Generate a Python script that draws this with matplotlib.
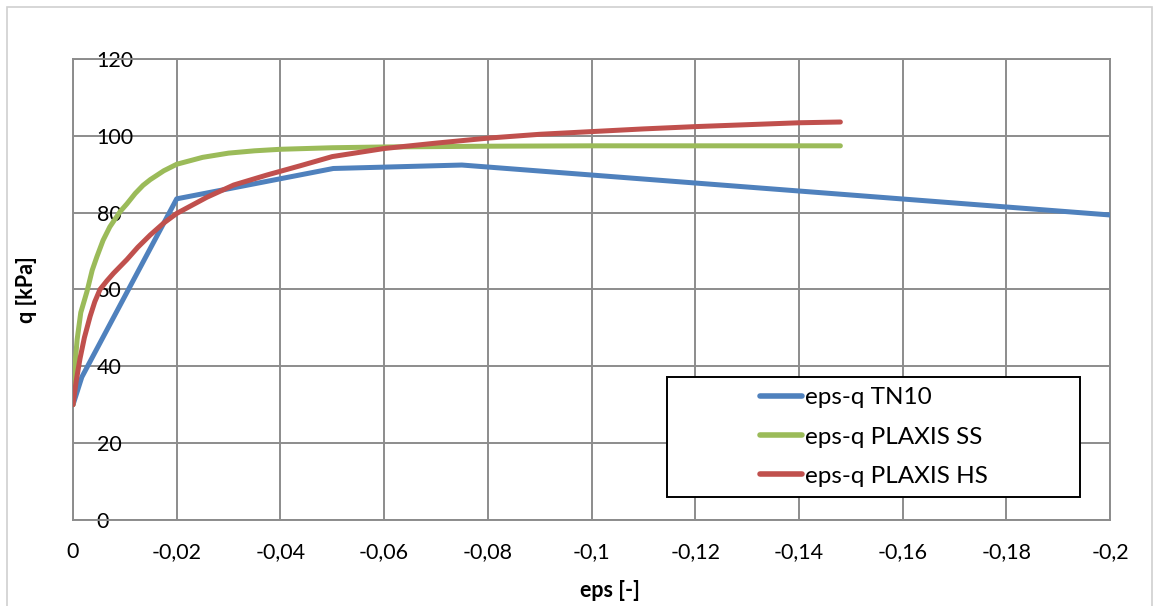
import matplotlib
matplotlib.use("Agg")
import matplotlib.pyplot as plt
from matplotlib.patches import Rectangle

# Data
eps_tn10 = [0, -0.0017, -0.02, -0.0502, -0.075, -0.2]
q_tn10 = [30, 37.2, 83.6, 91.5, 92.4, 79.4]

eps_ss = [0, -0.0003, -0.0008, -0.0015, -0.0027, -0.0037, -0.0046, -0.0058, -0.0071,
          -0.0091, -0.0104, -0.012, -0.0135, -0.0149, -0.0175, -0.02, -0.025, -0.03,
          -0.035, -0.04, -0.05, -0.06, -0.08, -0.1, -0.12, -0.148]
q_ss = [30, 39, 47, 54, 59.5, 65, 68.5, 72.8, 76.3, 80.3, 82.3, 85, 87.1, 88.6, 90.9,
        92.6, 94.4, 95.5, 96.1, 96.5, 96.9, 97.1, 97.3, 97.4, 97.4, 97.4]

eps_hs = [0, -0.0006, -0.00135, -0.0022, -0.0033, -0.0042, -0.0052, -0.0065, -0.0078,
          -0.0091, -0.0104, -0.0125, -0.0149, -0.0175, -0.02, -0.0258, -0.031, -0.0374,
          -0.0438, -0.05, -0.06, -0.07, -0.08, -0.09, -0.1, -0.11, -0.12, -0.13, -0.14,
          -0.148]
q_hs = [30, 36, 42, 47.5, 53, 56.8, 60, 62.2, 64.2, 66, 67.8, 71, 74.2, 77.3, 79.8,
        84, 87.2, 89.8, 92.2, 94.6, 96.7, 98.1, 99.4, 100.4, 101.1, 101.8, 102.4, 102.9,
        103.4, 103.6]

labels = ["eps-q TN10", "eps-q PLAXIS SS", "eps-q PLAXIS HS"]
colors = ["#4F81BD", "#9BBB59", "#C0504D"]

xticks = [0, -0.02, -0.04, -0.06, -0.08, -0.1, -0.12, -0.14, -0.16, -0.18, -0.2]
xtick_labels = ["0", "-0,02", "-0,04", "-0,06", "-0,08", "-0,1", "-0,12",
                "-0,14", "-0,16", "-0,18", "-0,2"]
yticks = [0, 20, 40, 60, 80, 100, 120]

plt.rcParams["font.family"] = ["Lato", "DejaVu Sans"]

W, H = 1153, 606
fig = plt.figure(figsize=(W / 100, H / 100), dpi=100)
ax = fig.add_axes([73 / W, 1 - 520 / H, (1110 - 73) / W, (520 - 59) / H])

# outer chart border
fig.patches.append(Rectangle((7 / W, -0.01), (1152 - 7) / W, 1.01 - 7 / H,
                             transform=fig.transFigure, fill=False,
                             edgecolor="#d0d0d0", linewidth=1.2))

for xs, ys, c, lab in zip([eps_tn10, eps_ss, eps_hs], [q_tn10, q_ss, q_hs], colors, labels):
    ax.plot(xs, ys, color=c, linewidth=3.6, label=lab, solid_capstyle="round",
            solid_joinstyle="round", zorder=3)

ax.set_xlim(0, -0.2)
ax.set_ylim(0, 120)
ax.set_xticks(xticks)
ax.set_xticklabels(xtick_labels)
ax.set_yticks(yticks)
ax.grid(True, color="#8c8c8c", linewidth=1.4)
ax.set_axisbelow(True)
for s in ax.spines.values():
    s.set_color("#8c8c8c")
    s.set_linewidth(1.4)

ax.tick_params(axis="x", length=0, pad=16, labelsize=15.5)
ax.tick_params(axis="y", length=0, pad=-17, labelsize=15.5)
for t in ax.get_yticklabels():
    t.set_horizontalalignment("left")

ax.set_xlabel("eps [-]", fontsize=15.5, fontweight="bold")
ax.xaxis.set_label_coords((610 - 73) / 1037, (520 - 580) / 461)
ax.set_ylabel("q [kPa]", fontsize=15.5, fontweight="bold")
ax.yaxis.set_label_coords((37 - 73) / 1037, 0.5)

# legend box
x0, x1 = (667 - 73) / 1037, (1080 - 73) / 1037
y0, y1 = (520 - 497) / 461, (520 - 377) / 461
ax.add_patch(Rectangle((x0, y0), x1 - x0, y1 - y0, transform=ax.transAxes,
                       facecolor="white", edgecolor="black", linewidth=1.4, zorder=4))
leg = ax.legend(loc="center", bbox_to_anchor=((x0 + x1) / 2, (y0 + y1) / 2),
                frameon=False, fontsize=17.5, handlelength=1.75, handletextpad=0.1,
                labelspacing=0.75)
leg.set_zorder(5)
for h in leg.get_lines():
    h.set_linewidth(4)

fig.savefig("out.png", dpi=100)
